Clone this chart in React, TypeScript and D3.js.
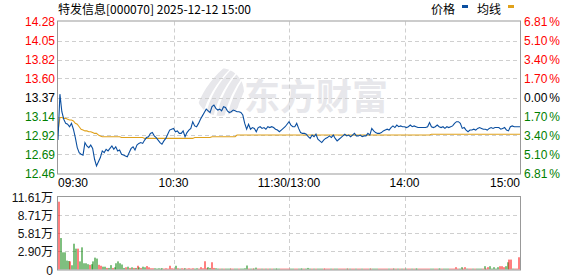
import React from 'react';
import * as d3 from 'd3';

const title = '特发信息[000070] 2025-12-12 15:00';
const legendLabels = ['价格', '均线'];
const watermarkText = '东方财富';
const prevClose = 13.37;
const priceTicks = [14.28, 14.05, 13.82, 13.6, 13.37, 13.14, 12.92, 12.69, 12.46];
const pctTicks = ['6.81', '5.10', '3.40', '1.70', '0.00', '1.70', '3.40', '5.10', '6.81'];
const volTicks = [11.61, 8.71, 5.81, 2.9, 0];
const volTickLabels = ['11.61万', '8.71万', '5.81万', '2.90万', '0'];
const timeLabels = ['09:30', '10:30', '11:30/13:00', '14:00', '15:00'];
const timeIdx = [0, 60, 120, 180, 240];

const prices = [
  12.86, 13.41, 13.20, 13.11, 13.06, 13.05, 13.02, 13.06, 12.99, 12.89,
  12.77, 12.71, 12.69, 12.68, 12.83, 12.79, 12.77, 12.80, 12.76, 12.63,
  12.55, 12.60, 12.65, 12.73, 12.71, 12.75, 12.73, 12.76, 12.79, 12.75,
  12.78, 12.73, 12.74, 12.69, 12.68, 12.67, 12.66, 12.71, 12.76, 12.78,
  12.74, 12.80, 12.82, 12.83, 12.82, 12.86, 12.89, 12.90, 12.94, 12.95,
  12.91, 12.89, 12.86, 12.83, 12.81, 12.85, 12.88, 12.93, 12.98, 12.99,
  13.00, 12.96, 12.97, 12.94, 12.94, 12.97, 12.90, 12.95, 12.98, 13.00,
  13.08, 13.03, 13.02, 13.06, 13.11, 13.15, 13.19, 13.23, 13.21, 13.19,
  13.26, 13.28, 13.24, 13.22, 13.23, 13.21, 13.26, 13.25, 13.21, 13.19,
  13.20, 13.22, 13.21, 13.20, 13.20, 13.19, 13.16, 13.06, 12.99, 13.05,
  12.99, 13.01, 13.00, 12.96, 13.01, 13.02, 13.00, 13.01, 12.99, 13.02,
  13.01, 13.02, 13.01, 12.99, 12.98, 12.96, 12.98, 13.00, 13.02, 13.05,
  13.08, 13.04, 13.02, 13.02, 13.06, 13.00, 12.95, 12.94, 12.94, 12.93,
  12.90, 12.88, 12.92, 12.90, 12.93, 12.87, 12.85, 12.83, 12.86, 12.88,
  12.89, 12.91, 12.89, 12.92, 12.88, 12.85, 12.87, 12.89, 12.91, 12.93,
  12.91, 12.92, 12.90, 12.92, 12.94, 12.91, 12.91, 12.92, 12.90, 12.91,
  12.91, 12.94, 12.92, 13.00, 12.97, 12.95, 12.94, 12.94, 12.95, 12.97,
  12.98, 12.99, 12.98, 13.01, 13.03, 13.01, 13.04, 13.02, 13.03, 13.02,
  13.02, 13.01, 13.02, 13.04, 13.02, 13.03, 13.02, 13.01, 13.01, 13.01,
  13.01, 13.01, 13.02, 13.07, 13.02, 13.01, 13.02, 13.04, 13.02, 13.01,
  13.02, 13.00, 13.02, 13.01, 13.02, 13.03, 13.06, 13.08, 13.08, 13.06,
  13.00, 13.01, 12.98, 12.96, 12.98, 12.98, 12.99, 12.98, 13.00, 13.01,
  13.00, 12.99, 12.99, 12.98, 13.00, 13.01, 13.00, 13.01, 13.01, 13.01,
  12.99, 13.00, 13.01, 12.98, 12.97, 13.02, 13.03, 13.02, 13.02, 13.02,
  13.02,
];

const avgPrices = [
  12.97, 13.13, 13.13, 13.12, 13.12, 13.11, 13.10, 13.10, 13.09, 13.06,
  13.05, 13.02, 12.99, 12.98, 12.97, 12.97, 12.96, 12.96, 12.95, 12.94,
  12.94, 12.92, 12.91, 12.90, 12.90, 12.90, 12.90, 12.90, 12.90, 12.90,
  12.90, 12.90, 12.90, 12.89, 12.89, 12.89, 12.89, 12.89, 12.89, 12.89,
  12.89, 12.89, 12.89, 12.89, 12.89, 12.88, 12.88, 12.88, 12.88, 12.88,
  12.88, 12.88, 12.88, 12.88, 12.88, 12.88, 12.88, 12.88, 12.88, 12.88,
  12.88, 12.88, 12.88, 12.88, 12.88, 12.88, 12.88, 12.88, 12.88, 12.88,
  12.88, 12.89, 12.89, 12.89, 12.89, 12.89, 12.89, 12.89, 12.89, 12.89,
  12.90, 12.90, 12.90, 12.90, 12.90, 12.90, 12.90, 12.90, 12.90, 12.90,
  12.90, 12.90, 12.90, 12.92, 12.92, 12.92, 12.92, 12.92, 12.92, 12.92,
  12.92, 12.92, 12.92, 12.92, 12.92, 12.92, 12.92, 12.92, 12.92, 12.92,
  12.92, 12.92, 12.92, 12.92, 12.92, 12.92, 12.92, 12.92, 12.92, 12.92,
  12.92, 12.92, 12.92, 12.92, 12.92, 12.92, 12.92, 12.92, 12.92, 12.92,
  12.92, 12.92, 12.92, 12.92, 12.92, 12.92, 12.92, 12.92, 12.92, 12.92,
  12.92, 12.92, 12.92, 12.92, 12.92, 12.92, 12.92, 12.92, 12.92, 12.92,
  12.92, 12.92, 12.92, 12.92, 12.92, 12.92, 12.92, 12.92, 12.92, 12.92,
  12.92, 12.92, 12.92, 12.92, 12.92, 12.92, 12.92, 12.92, 12.92, 12.92,
  12.92, 12.92, 12.92, 12.92, 12.92, 12.92, 12.92, 12.92, 12.92, 12.92,
  12.92, 12.92, 12.92, 12.92, 12.92, 12.92, 12.92, 12.92, 12.92, 12.92,
  12.92, 12.92, 12.92, 12.92, 12.93, 12.93, 12.93, 12.93, 12.93, 12.93,
  12.93, 12.93, 12.93, 12.93, 12.93, 12.93, 12.93, 12.93, 12.93, 12.93,
  12.93, 12.93, 12.93, 12.93, 12.93, 12.93, 12.93, 12.93, 12.93, 12.93,
  12.93, 12.93, 12.93, 12.93, 12.93, 12.93, 12.93, 12.93, 12.93, 12.93,
  12.93, 12.93, 12.93, 12.93, 12.93, 12.93, 12.93, 12.93, 12.93, 12.93,
  12.93,
];

// volume in 万 shares
const volumes = [
  10.86, 5.04, 2.75, 2.75, 1.43, 1.36, 1.30, 0.68, 4.13, 3.34,
  3.34, 1.30, 3.55, 1.00, 1.00, 0.85, 0.75, 0.85, 1.30, 1.90,
  1.75, 0.75, 0.60, 0.45, 0.45, 0.25, 0.25, 0.70, 0.25, 0.35,
  1.00, 1.30, 1.00, 0.80, 0.25, 0.35, 0.45, 0.25, 0.35, 0.25,
  0.25, 0.60, 0.35, 0.25, 0.45, 0.35, 0.55, 0.35, 0.20, 0.20,
  0.20, 0.15, 0.20, 0.15, 0.20, 0.15, 0.20, 0.15, 0.60, 0.20,
  0.15, 0.60, 0.20, 0.15, 0.20, 0.15, 0.20, 0.15, 0.20, 0.15,
  0.20, 0.15, 0.20, 0.15, 0.37, 0.20, 1.32, 0.20, 0.37, 0.25,
  1.16, 0.25, 0.20, 0.15, 0.15, 0.15, 0.15, 0.15, 0.15, 0.15,
  0.15, 0.15, 0.15, 0.15, 0.15, 0.15, 0.15, 0.20, 0.64, 0.15,
  0.15, 0.15, 0.15, 0.30, 0.15, 0.15, 0.15, 0.15, 0.15, 0.15,
  0.15, 0.15, 0.15, 0.15, 0.15, 0.15, 0.15, 0.15, 0.15, 0.15,
  0.15, 0.15, 0.15, 0.15, 0.15, 0.15, 0.15, 0.15, 0.15, 0.15,
  0.25, 0.15, 0.15, 0.15, 0.15, 0.15, 0.15, 0.15, 0.15, 0.15,
  0.15, 0.15, 0.15, 0.15, 0.15, 0.15, 0.15, 0.15, 0.15, 0.15,
  0.15, 0.15, 0.15, 0.15, 0.15, 0.15, 0.15, 0.15, 0.15, 0.15,
  0.15, 0.15, 0.15, 0.15, 0.15, 0.15, 0.15, 0.15, 0.15, 0.15,
  0.15, 0.15, 0.15, 0.15, 0.15, 0.15, 0.15, 0.15, 0.15, 0.15,
  0.15, 0.15, 0.15, 0.15, 0.15, 0.15, 0.15, 0.15, 0.15, 0.15,
  0.15, 0.15, 0.15, 0.15, 0.15, 0.15, 0.15, 0.15, 0.15, 0.15,
  0.15, 0.15, 0.15, 0.15, 0.15, 0.15, 0.15, 0.37, 0.15, 0.15,
  0.37, 0.15, 0.37, 0.15, 0.15, 0.15, 0.15, 0.15, 0.15, 0.15,
  0.15, 0.15, 0.53, 0.15, 0.37, 0.53, 0.15, 0.37, 0.15, 0.37,
  0.53, 0.53, 0.37, 0.53, 1.16, 1.59, 1.59, 0.15, 0.15, 0.15,
  1.96,
];

// r = up (red), g = down (green), '.' = follows price change
const volDir =
  'rgggggrggg' + 'rgggg' + 'grggg' + 'grrggrggrg' + 'gggggrgrgr' + 'grgrggrrr.' +
  '..........' + '..........' + '..........' + '..........' + '..........' +
  '..........' + '..........' + '..........' + '..........' + '..........' +
  '..........' + '..........' + '..........' + '..........' + '.......r..' +
  'r.g.......' + '..rgrrgrgg' + 'grgrrggggg' + 'r';

const RED = '#ff0000';
const GREEN = '#008000';
const BLUE = '#0b4fa0';
const ORANGE = '#e0a11b';
const GRID = '#cfcfcf';
const FRAME = '#999999';
const WM = '#e7e7eb';
const NUM_FONT = '"Liberation Sans", Arial, "Noto Sans CJK SC", sans-serif';
const CJK_FONT = '"Noto Sans CJK SC", "Liberation Sans", sans-serif';

function Logo({ cx, cy }: { cx: number; cy: number }) {
  // stylised swoosh watermark
  const bands = [0, 1, 2, 3];
  return (
    <g>
      <defs>
        <clipPath id="logoClip">
          <circle cx={cx} cy={cy} r={24} />
        </clipPath>
      </defs>
      <g clipPath="url(#logoClip)">
        {bands.map((k) => (
          <path key={k}
            d={`M ${cx - 26 + k * 11} ${cy + 26} Q ${cx - 20 + k * 11} ${cy - 4} ${cx + 6 + k * 9} ${cy - 26}
                L ${cx + 13 + k * 9} ${cy - 26} Q ${cx - 12 + k * 11} ${cy - 2} ${cx - 18 + k * 11} ${cy + 26} Z`}
            fill={WM} />
        ))}
      </g>
    </g>
  );
}

export default function App() {
  const L = 58, R = 520;
  const pTop = 21.5, pBot = 173.5;
  const vTop = 197, vBot = 269.5;

  const x = d3.scaleLinear().domain([0, 240]).range([L, R]);
  const pct = 0.0681;
  const y = d3.scaleLinear().domain([prevClose * (1 - pct), prevClose * (1 + pct)]).range([pBot, pTop]);
  const vy = d3.scaleLinear().domain([0, 11.61]).range([vBot, vTop]);
  const band = d3.scaleBand<number>().domain(d3.range(volumes.length)).range([L, R]);

  const line = d3.line<number>().x((_, i) => x(i)).y((d) => y(d));

  const labelColor = (v: number) => (Math.abs(v - prevClose) < 0.005 ? '#000' : v > prevClose ? RED : GREEN);

  const barColor = (i: number) => {
    const c = volDir[i];
    if (c === 'r') return RED;
    if (c === 'g') return GREEN;
    return prices[i] >= prices[i - 1] ? RED : GREEN;
  };

  return (
    <svg width={578} height={276} style={{ position: 'fixed', left: 0, top: 0, background: '#fff' }}>
      <rect x={0} y={0} width={578} height={276} fill="#fff" />
      {/* title */}
      <text x={L} y={14} fontSize={12} fontFamily={CJK_FONT} fill="#000">{title}</text>
      {/* legend */}
      <text x={431} y={14} fontSize={12} fontFamily={CJK_FONT} fill="#000">{legendLabels[0]}</text>
      <rect x={462} y={5} width={6} height={3} fill={BLUE} />
      <text x={477} y={14} fontSize={12} fontFamily={CJK_FONT} fill="#000">{legendLabels[1]}</text>
      <rect x={508} y={5} width={6} height={3} fill={ORANGE} />

      {/* watermark */}
      <Logo cx={220} cy={92} />
      <text x={244} y={110} fontSize={36} fontWeight={700} fontFamily={CJK_FONT} fill={WM}>{watermarkText}</text>

      {/* price grid */}
      {priceTicks.slice(1, -1).map((t, k) => (
        <line key={'hg' + k} x1={L} x2={R} y1={Math.round(y(t)) + 0.5} y2={Math.round(y(t)) + 0.5}
          stroke={GRID} strokeDasharray="4,3" />
      ))}
      {timeIdx.slice(1, -1).map((t, k) => (
        <line key={'vg' + k} x1={Math.round(x(t)) + 0.5} x2={Math.round(x(t)) + 0.5} y1={pTop} y2={pBot}
          stroke={GRID} strokeDasharray="4,3" />
      ))}
      {/* volume grid */}
      {volTicks.slice(1, -1).map((t, k) => (
        <line key={'vhg' + k} x1={L} x2={R} y1={Math.round(vy(t)) + 0.5} y2={Math.round(vy(t)) + 0.5}
          stroke={GRID} strokeDasharray="4,3" />
      ))}
      {timeIdx.slice(1, -1).map((t, k) => (
        <line key={'vvg' + k} x1={Math.round(x(t)) + 0.5} x2={Math.round(x(t)) + 0.5} y1={vTop} y2={vBot}
          stroke={GRID} strokeDasharray="4,3" />
      ))}

      {/* lines */}
      <path d={line(avgPrices) || ''} fill="none" stroke={ORANGE} strokeWidth={1.1} />
      <path d={line(prices) || ''} fill="none" stroke={BLUE} strokeWidth={1.1} />

      {/* volume bars */}
      {volumes.map((v, i) => (
        <rect key={'b' + i} x={Math.round(band(i)! + band.bandwidth() / 2) - 0.5} width={1}
          y={vy(v)} height={vBot - vy(v)} fill={barColor(i)} />
      ))}

      {/* frames */}
      <rect x={L - 0.5} y={pTop - 0.5} width={R - L + 1} height={pBot - pTop + 1} fill="none" stroke={FRAME} />
      <rect x={L - 0.5} y={vTop - 0.5} width={R - L + 1} height={vBot - vTop + 1} fill="none" stroke={FRAME} />

      {/* left price labels */}
      {priceTicks.map((t, k) => (
        <text key={'pl' + k} x={55} y={y(t) + 4.5} textAnchor="end" fontSize={12} fontFamily={NUM_FONT}
          fill={labelColor(t)}>{t.toFixed(2)}</text>
      ))}
      {/* right pct labels */}
      {priceTicks.map((t, k) => (
        <text key={'rl' + k} x={524} y={y(t) + 4.5} fontSize={12} fontFamily={NUM_FONT} fill={labelColor(t)}>
          {pctTicks[k]}<tspan dx={2}>%</tspan>
        </text>
      ))}
      {/* time labels */}
      {timeLabels.map((s, k) => (
        <text key={'tl' + k} x={x(timeIdx[k])} y={187} fontSize={12} fontFamily={NUM_FONT} fill="#000"
          textAnchor={k === 0 ? 'start' : k === timeLabels.length - 1 ? 'end' : 'middle'}>{s}</text>
      ))}
      {/* volume labels */}
      {volTicks.map((t, k) => (
        <text key={'vl' + k} x={53} y={vy(t) + 5} textAnchor="end" fontSize={12} fontFamily={NUM_FONT} fill="#111">
          {volTickLabels[k]}
        </text>
      ))}
    </svg>
  );
}
